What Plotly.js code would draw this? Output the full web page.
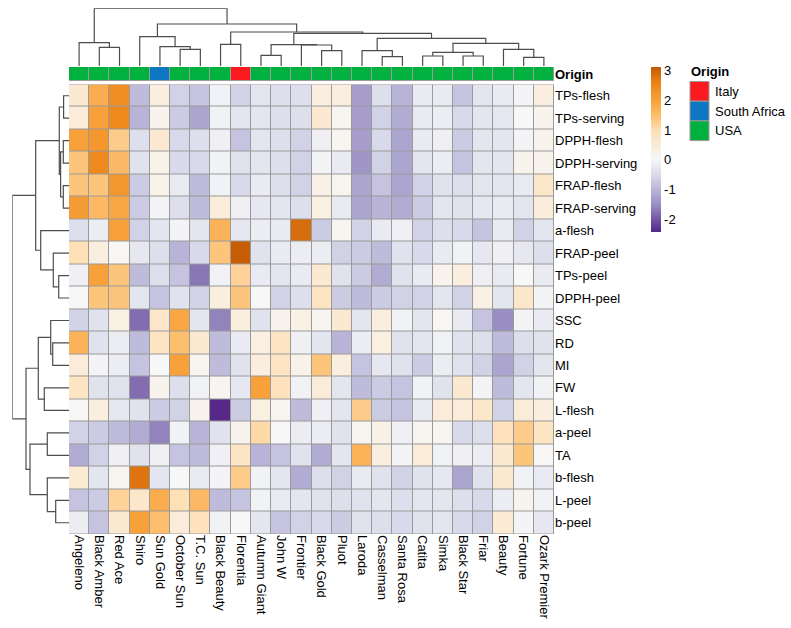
<!DOCTYPE html>
<html><head><meta charset="utf-8">
<script src="https://cdn.plot.ly/plotly-3.0.1.min.js"></script>
<style>html,body{margin:0;padding:0;background:#fff}#chart{width:791px;height:628px}</style>
</head><body><div id="chart"></div>
<script>
const columns = ['Angeleno','Black Amber','Red Ace','Shiro','Sun Gold','October Sun','T.C. Sun','Black Beauty','Florentia','Autumn Giant','John W','Frontier','Black Gold','Pluot','Laroda','Casselman','Santa Rosa','Catita','Simka','Black Star','Friar','Beauty','Fortune','Ozark Premier'];
const rowLabels = ['TPs-flesh','TPs-serving','DPPH-flesh','DPPH-serving','FRAP-flesh','FRAP-serving','a-flesh','FRAP-peel','TPs-peel','DPPH-peel','SSC','RD','MI','FW','L-flesh','a-peel','TA','b-flesh','L-peel','b-peel'];

const tpsFlesh    = [0.6, 1.8, 2.4, -0.9, 0.4, -0.6, -0.8, -0.05, -0.6, -0.3, -0.4, -0.4, 0.4, 0.4, -1.3, -0.4, -1.0, -0.2, -0.2, -0.8, -0.3, -0.2, 0.0, 0.4];
const tpsServing  = [0.5, 2.0, 2.5, -1.0, 0.2, -0.7, -1.2, -0.05, -0.3, -0.3, -0.4, -0.4, 0.6, 0.15, -1.3, -0.6, -1.1, -0.2, -0.15, -0.5, -0.3, -0.25, 0.05, 0.2];
const dpphFlesh   = [2.0, 2.2, 1.3, -0.4, 0.6, -0.5, -0.4, -0.1, -0.8, -0.3, -0.4, -0.6, -0.1, 0.15, -1.3, -0.5, -1.2, -0.2, -0.1, -0.7, -0.3, -0.3, 0.0, 0.2];
const dpphServing = [1.4, 2.5, 1.6, -0.35, 0.25, -0.5, -0.5, -0.05, -0.35, -0.3, -0.4, -0.6, 0.0, -0.2, -1.4, -0.6, -1.2, -0.3, -0.15, -0.8, -0.3, -0.3, 0.2, 0.2];
const frapFlesh   = [1.4, 1.4, 2.2, -0.7, 0.25, -0.2, -0.9, -0.05, -0.5, -0.2, -0.4, -0.6, 0.3, 0.15, -1.2, -0.8, -1.2, -0.6, -0.35, -0.4, -0.3, -0.3, -0.2, 0.7];
const frapServing = [2.1, 1.6, 1.9, -0.7, 0.0, -0.4, -0.9, 0.45, -0.1, -0.25, -0.3, -0.4, 0.35, -0.2, -1.2, -1.0, -1.1, -0.7, -0.3, -0.35, -0.25, -0.2, -0.3, 0.45];
const aFlesh      = [-0.4, -0.15, 2.0, -0.6, -0.3, 0.0, -0.3, 1.7, -0.25, -0.15, -0.2, 2.9, -0.7, 0.15, -0.6, -0.2, -0.1, -0.6, -0.4, -0.5, -0.8, -0.2, -0.6, -0.3];
const frapPeel    = [1.0, 0.4, 0.1, -0.25, -0.4, -1.0, -0.5, 1.4, 3.1, -0.35, -0.2, -0.15, -0.15, -0.6, -0.7, -0.9, -0.35, -0.5, -0.2, -0.05, -0.25, -0.1, -0.25, -0.4];
const tpsPeel     = [-0.1, 2.0, 1.4, -0.9, -0.4, -0.8, -1.7, -0.05, 1.2, -0.2, -0.3, -0.2, 0.6, -0.35, -0.7, -1.1, -0.35, -0.2, 0.2, 0.4, -0.1, -0.2, 0.05, -0.2];
const dpphPeel    = [0.05, 1.4, 1.4, -0.3, -0.8, -0.35, -0.6, 0.4, 1.4, 0.05, -0.6, -0.4, 0.8, -0.7, -0.9, -0.7, -0.6, -0.6, -0.3, -0.6, 0.3, -0.3, 0.7, 0.0];
const ssc         = [-0.6, -0.35, 0.35, -1.8, 0.7, 1.9, -0.3, -1.6, 0.4, -0.35, 0.2, 0.3, 0.15, 0.6, -0.3, 0.4, -0.05, -0.3, 0.1, -0.2, -0.8, -1.5, 0.0, -0.2];
const rd          = [1.7, -0.35, -0.15, -0.9, 0.8, 1.5, 0.6, -0.9, -0.2, 0.35, 0.8, -0.1, -0.3, -1.0, -0.15, 0.35, -0.35, -0.3, -0.05, -0.35, -0.4, -0.9, -0.4, -0.35];
const mi          = [0.5, 0.0, -0.15, -0.8, 0.05, 2.0, 0.15, -0.9, -0.35, 0.4, 0.8, 0.25, 1.4, 0.4, -0.8, -0.25, -0.35, -0.7, -0.15, -0.35, -0.6, -1.2, -0.6, -0.3];
const fw          = [0.8, -0.35, -0.35, -1.8, 0.2, -0.4, -0.05, 0.15, -0.25, 2.0, 0.9, -0.05, 0.5, -0.3, -0.9, -0.7, -0.8, -0.05, -0.35, 0.6, 0.0, -0.9, -0.3, -0.05];
const lFlesh      = [0.1, 0.4, -0.25, -0.35, -0.7, -0.6, 0.2, -2.4, -0.7, 0.35, 0.15, -0.9, -0.1, -0.3, 1.3, -0.7, -0.8, -0.2, 0.5, 0.5, 0.7, -0.6, 0.5, 0.4];
const aPeel       = [-0.6, -0.7, -0.9, -1.1, -1.6, -0.05, -1.0, -0.35, 0.2, 1.1, 0.05, -0.15, -0.15, -0.35, 0.15, 0.3, -0.1, 0.15, 0.15, -0.5, -0.4, 0.9, 1.3, 0.8];
const ta          = [-1.1, -0.6, -0.1, -0.35, -0.1, -0.8, -0.9, -0.1, 0.8, -1.0, -0.8, -0.35, -1.1, -0.3, 1.7, 0.4, 0.0, 0.5, -0.05, -0.1, -0.15, 0.6, 1.4, 0.1];
const bFlesh      = [0.55, -0.3, 0.15, 2.8, -0.3, 0.05, -0.2, 0.0, 1.3, -0.05, -0.3, -1.1, -0.4, -0.6, -0.2, -0.35, -0.6, -0.35, -0.25, -1.2, -0.35, 0.6, -0.05, -0.2];
const lPeel       = [-0.8, -0.7, 1.2, 0.7, 1.8, 1.0, 1.6, -0.9, -0.8, -0.05, -0.2, -0.3, -0.35, -0.4, -0.35, -0.3, -0.4, -0.3, -0.3, -0.4, -0.5, -0.15, 0.2, -0.05];
const bPeel       = [-0.15, -0.8, 0.6, 2.0, 1.5, 0.5, 0.9, -0.05, 0.05, -0.3, -0.8, -0.6, -0.5, -0.7, -0.35, -0.4, -0.5, -0.35, -0.3, -0.5, -0.6, 0.55, 0.0, -0.25];

const columnOrigin = ['USA','USA','USA','USA','South Africa','USA','USA','USA','Italy','USA','USA','USA','USA','USA','USA','USA','USA','USA','USA','USA','USA','USA','USA','USA'];
const originNames  = ['Italy','South Africa','USA'];
const originColors = ['#fb1a1f','#0d78c1','#00b140'];

// hierarchical clustering merges (negative = leaf index+1, positive = earlier merge number)
const colMergeA = [-2, -1, -6, -5, -4, -8, -10, -13, -12, 7, -16, -15, -18, -20, 13, -23, -22, 15, 12, 10, 6, 5, 2];
const colMergeB = [-3, 1, -7, 3, 4, -9, -11, -14, 8, 9, -17, 11, -19, -21, 14, -24, 16, 17, 18, 19, 20, 21, 22];
const colMergeH = [18.7, 23.3, 16.7, 19.3, 29.3, 21.7, 10.7, 15.3, 21.0, 21.4, 9.3, 15.3, 10, 10, 13.7, 8.7, 16.7, 22.7, 27.7, 32.7, 34, 42, 57.7];
const rowMergeA = [-1, -3, -5, 2, 1, -9, -8, -7, 5, -12, -11, -14, 11, -16, -19, -18, 14, 13, 9];
const rowMergeB = [-2, -4, -6, 3, 4, -10, 6, 7, 8, -13, 10, -15, 12, -17, -20, 15, 16, 17, 18];
const rowMergeH = [5.7, 6, 6, 8.7, 10, 10.6, 16, 28.6, 33.6, 16.6, 18.6, 25, 31, 22, 13.6, 22, 39.3, 43.3, 57];

const colorTicks = [-2, -1, 0, 1, 2, 3];
const colorTickText = ['-2', '-1', '0', '1', '2', '3'];

const zValues = [tpsFlesh, tpsServing, dpphFlesh, dpphServing, frapFlesh, frapServing, aFlesh, frapPeel, tpsPeel, dpphPeel, ssc, rd, mi, fw, lFlesh, aPeel, ta, bFlesh, lPeel, bPeel];

const zmin = -2.42, zmax = 3.14;
function stop(v, c) { return [(v - zmin) / (zmax - zmin), c]; }
const colorscale = [stop(-2.42, '#542788'), stop(-1.5, '#998ec3'), stop(-0.5, '#d8daeb'), stop(0.05, '#f7f7f7'), stop(1.0, '#fee0b6'), stop(1.5, '#fdbe6e'), stop(2.0, '#f8a13a'), stop(2.6, '#ec8418'), stop(3.14, '#c45a02')];

function dendro(A, B, H) {
  const nodePos = [], nodeH = [], pos = [], hs = [];
  const get = id => id < 0 ? [-id - 1, 0] : [nodePos[id - 1], nodeH[id - 1]];
  for (let i = 0; i < A.length; i++) {
    const [pa, ha] = get(A[i]);
    const [pb, hb] = get(B[i]);
    pos.push(pa, pa, pb, pb, null);
    hs.push(ha, H[i], H[i], hb, null);
    nodePos.push((pa + pb) / 2); nodeH.push(H[i]);
  }
  return { pos, hs };
}
const colTree = dendro(colMergeA, colMergeB, colMergeH);
const rowTree = dendro(rowMergeA, rowMergeB, rowMergeH);

const colIdx = columns.map((_, i) => i);
const rowIdx = rowLabels.map((_, i) => i);
const originCodes = columnOrigin.map(o => originNames.indexOf(o));

const W = 791, H = 628;
const px = v => v / W, py = v => 1 - v / H;
const fontFam = 'Liberation Sans, Arial, Helvetica, sans-serif';
const treeColor = '#4d4d4d';

const traces = [
  {
    type: 'heatmap', x: colIdx, y: rowIdx, z: zValues, xaxis: 'x', yaxis: 'y',
    zmin: zmin, zmax: zmax, colorscale: colorscale, xgap: 1, ygap: 1,
    colorbar: {
      x: px(650.5), xanchor: 'left', y: py(66.7), yanchor: 'top',
      len: 165, lenmode: 'pixels', thickness: 10, thicknessmode: 'pixels',
      xpad: 0, ypad: 0, outlinewidth: 0, ticks: '',
      tickvals: colorTicks, ticktext: colorTickText,
      tickfont: { size: 13, color: '#000', family: fontFam }
    },
    hoverinfo: 'z'
  },
  {
    type: 'heatmap', x: colIdx, y: [0], z: [originCodes], xaxis: 'x', yaxis: 'y2',
    zmin: 0, zmax: 2, showscale: false, xgap: 1, ygap: 1,
    colorscale: [[0, originColors[0]], [0.25, originColors[0]], [0.25, originColors[1]], [0.75, originColors[1]], [0.75, originColors[2]], [1, originColors[2]]],
    hoverinfo: 'skip'
  },
  {
    type: 'scatter', mode: 'lines', x: colTree.pos, y: colTree.hs, xaxis: 'x3', yaxis: 'y3',
    line: { color: treeColor, width: 1.2 }, hoverinfo: 'skip', showlegend: false
  },
  {
    type: 'scatter', mode: 'lines', x: rowTree.hs, y: rowTree.pos, xaxis: 'x4', yaxis: 'y4',
    line: { color: treeColor, width: 1.2 }, hoverinfo: 'skip', showlegend: false
  }
];

const hx = [px(69), px(554)];
const hy = [py(534), py(84.5)];

const shapes = [
  { type: 'rect', xref: 'x', yref: 'y', x0: -0.5, x1: 23.5, y0: -0.5, y1: 19.5, fillcolor: '#9a9a9a', line: { color: '#9a9a9a', width: 2 }, layer: 'below' },
  { type: 'rect', xref: 'x', yref: 'y2', x0: -0.5, x1: 23.5, y0: -0.5, y1: 0.5, fillcolor: '#9a9a9a', line: { color: '#9a9a9a', width: 2 }, layer: 'below' }
];
const annotations = [
  { xref: 'paper', yref: 'paper', x: px(689), y: py(72), xanchor: 'left', yanchor: 'middle', text: '<b>Origin</b>', showarrow: false, font: { size: 13, color: '#000', family: fontFam } }
];
originNames.forEach((name, i) => {
  const top = 81.5 + i * 19.7;
  shapes.push({ type: 'rect', xref: 'paper', yref: 'paper', x0: px(690), x1: px(709), y0: py(top + 19.7), y1: py(top), fillcolor: originColors[i], line: { color: '#9a9a9a', width: 1 } });
  annotations.push({ xref: 'paper', yref: 'paper', x: px(713), y: py(top + 9.8), xanchor: 'left', yanchor: 'middle', text: name, showarrow: false, font: { size: 13, color: '#000', family: fontFam } });
});

const layout = {
  width: W, height: H, margin: { l: 0, r: 0, t: 0, b: 0 },
  paper_bgcolor: '#fff', plot_bgcolor: 'rgba(0,0,0,0)',
  font: { family: fontFam, size: 13, color: '#000' },
  showlegend: false,
  xaxis: { domain: hx, range: [-0.5, 23.5], anchor: 'y', tickvals: colIdx, ticktext: columns, tickangle: 90, ticks: '', showgrid: false, zeroline: false, showline: false, tickfont: { size: 13, color: '#000' } },
  yaxis: { domain: hy, range: [19.5, -0.5], anchor: 'x', side: 'right', tickvals: rowIdx, ticktext: rowLabels, ticks: '', showgrid: false, zeroline: false, showline: false, tickfont: { size: 13, color: '#000' } },
  yaxis2: { domain: [py(81), py(67)], range: [-0.5, 0.5], anchor: 'x', side: 'right', tickvals: [0], ticktext: ['<b>Origin</b>'], ticks: '', showgrid: false, zeroline: false, tickfont: { size: 13, color: '#000' } },
  xaxis3: { domain: hx, range: [-0.5, 23.5], anchor: 'y3', visible: false },
  yaxis3: { domain: [py(66), py(8.3)], range: [0, 57.7], anchor: 'x3', visible: false },
  xaxis4: { domain: [px(12.3), px(69.3)], range: [57, 0], anchor: 'y4', visible: false },
  yaxis4: { domain: hy, range: [19.5, -0.5], anchor: 'x4', visible: false },
  shapes: shapes, annotations: annotations
};

Plotly.newPlot('chart', traces, layout, { displayModeBar: false, staticPlot: true });
</script>
</body></html>
